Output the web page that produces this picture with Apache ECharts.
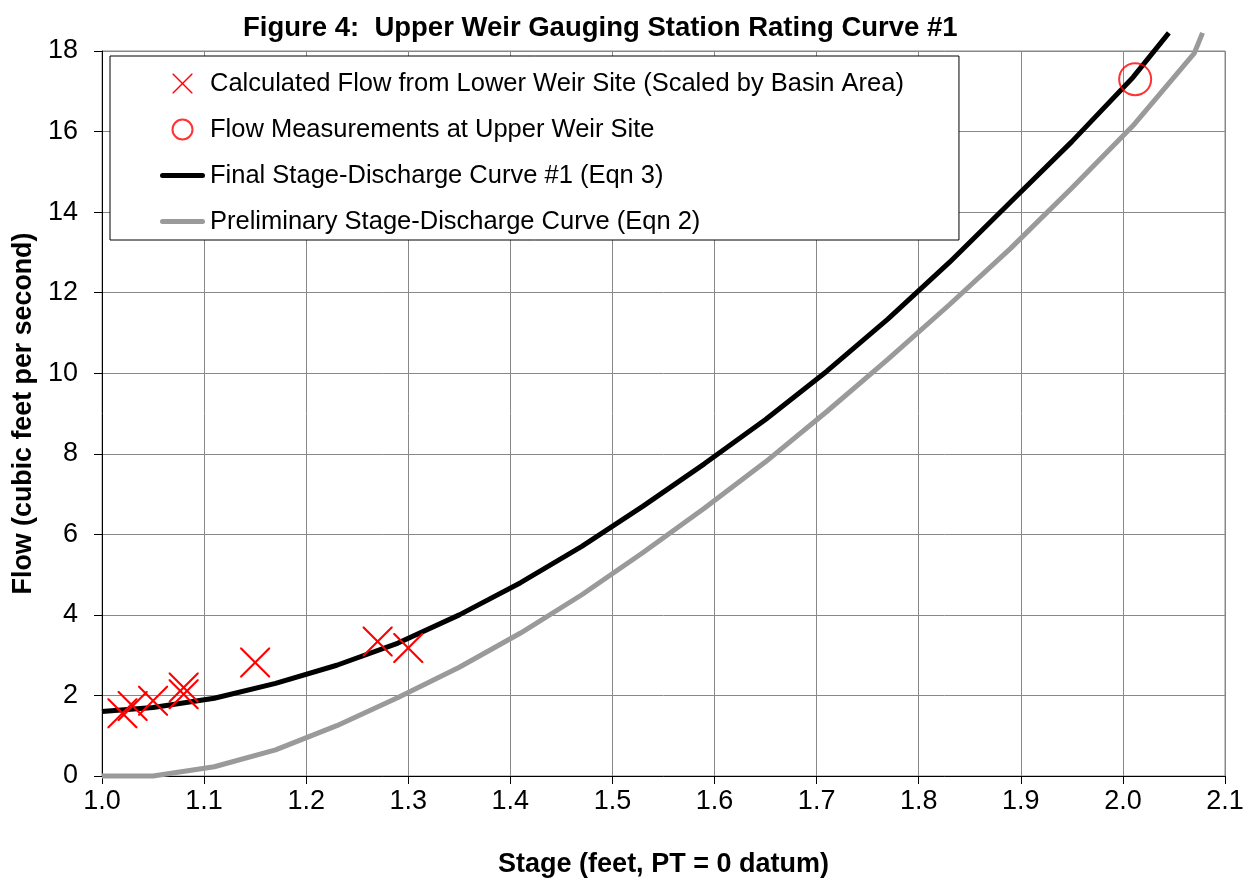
<!DOCTYPE html>
<html>
<head>
<meta charset="utf-8">
<script src="https://cdn.jsdelivr.net/npm/echarts@6/dist/echarts.min.js"></script>
<style>html,body{margin:0;padding:0;background:#fff}#c{width:1256px;height:883px}</style>
</head>
<body>
<div id="c"></div>
<script>
// ---- data ----
const titleText = 'Figure 4:  Upper Weir Gauging Station Rating Curve #1';
const xName = 'Stage (feet, PT = 0 datum)';
const yName = 'Flow (cubic feet per second)';
const seriesNames = [
  'Calculated Flow from Lower Weir Site (Scaled by Basin Area)',
  'Flow Measurements at Upper Weir Site',
  'Final Stage-Discharge Curve #1 (Eqn 3)',
  'Preliminary Stage-Discharge Curve (Eqn 2)'
];
const lowerStage = [1.02, 1.03, 1.05, 1.08, 1.08, 1.15, 1.27, 1.30];
const lowerFlow  = [1.56, 1.74, 1.87, 2.20, 2.03, 2.82, 3.34, 3.18];
const upperStage = [2.012];
const upperFlow  = [17.3];
const finalStage = [1.00, 1.05, 1.11, 1.17, 1.23, 1.29, 1.35, 1.41, 1.47, 1.53, 1.59, 1.65, 1.71, 1.77, 1.83, 1.89, 1.95, 2.01, 2.045];
const finalFlow  = [1.60, 1.70, 1.93, 2.30, 2.75, 3.30, 4.00, 4.80, 5.70, 6.70, 7.75, 8.85, 10.05, 11.35, 12.75, 14.25, 15.75, 17.35, 18.45];
const prelimStage = [1.00, 1.05, 1.11, 1.17, 1.23, 1.29, 1.35, 1.41, 1.47, 1.53, 1.59, 1.65, 1.71, 1.77, 1.83, 1.89, 1.95, 2.01, 2.07, 2.078];
const prelimFlow  = [0.00, 0.00, 0.23, 0.65, 1.25, 1.95, 2.70, 3.55, 4.50, 5.55, 6.65, 7.80, 9.05, 10.35, 11.70, 13.10, 14.60, 16.15, 17.95, 18.45];

const zip = (a, b) => a.map((v, i) => [v, b[i]]);
const FONT = "'Liberation Sans', Arial, sans-serif";
const crossPath = 'path://M0,0L0.5,0L5,4.5L9.5,0L10,0L10,0.5L5.5,5L10,9.5L10,10L9.5,10L5,5.5L0.5,10L0,10L0,9.5L4.5,5L0,0.5Z';
const barPath = 'path://M2.5,0L42.5,0A2.5,2.5,0,0,1,42.5,5L2.5,5A2.5,2.5,0,0,1,2.5,0Z';

const chart = echarts.init(document.getElementById('c'));
chart.setOption({
  animation: false,
  backgroundColor: '#fff',
  textStyle: { fontFamily: FONT },
  title: {
    text: titleText, left: 243, top: 14, padding: 0,
    textStyle: { fontFamily: FONT, fontSize: 27.5, fontWeight: 'bold', color: '#000' }
  },
  grid: { left: 102, right: 31, top: 51, bottom: 105, show: true, borderColor: '#888', borderWidth: 1 },
  legend: {
    orient: 'vertical', left: 110, top: 56,
    backgroundColor: '#fff', borderColor: '#000', borderWidth: 1,
    padding: [13, 55, 4, 50], itemGap: 17, itemWidth: 45, itemHeight: 20, itemTextGap: 7,
    textStyle: { fontFamily: FONT, fontSize: 25.5, color: '#000', lineHeight: 29 },
    data: [
      { name: seriesNames[0], icon: crossPath },
      { name: seriesNames[1], icon: 'circle' },
      { name: seriesNames[2], icon: barPath },
      { name: seriesNames[3], icon: barPath }
    ]
  },
  xAxis: {
    type: 'value', min: 1.0, max: 2.1, interval: 0.1,
    name: xName, nameLocation: 'middle', nameGap: 75,
    nameTextStyle: { fontFamily: FONT, fontSize: 27, fontWeight: 'bold', color: '#000' },
    axisLine: { show: true, onZero: false, lineStyle: { color: '#000', width: 1 } },
    axisTick: { show: true, length: 8, lineStyle: { color: '#000' } },
    axisLabel: { fontFamily: FONT, fontSize: 27, color: '#000', margin: 12, formatter: v => v.toFixed(1) },
    splitLine: { show: true, lineStyle: { color: '#888', width: 1 } }
  },
  yAxis: {
    type: 'value', min: 0, max: 18, interval: 2,
    name: yName, nameLocation: 'middle', nameGap: 65,
    nameTextStyle: { fontFamily: FONT, fontSize: 26.8, fontWeight: 'bold', color: '#000' },
    axisLine: { show: true, lineStyle: { color: '#000', width: 1 } },
    axisTick: { show: true, length: 8, lineStyle: { color: '#000' } },
    axisLabel: { fontFamily: FONT, fontSize: 27, color: '#000', margin: 24 },
    splitLine: { show: true, lineStyle: { color: '#888', width: 1 } }
  },
  series: [
    {
      name: seriesNames[3], type: 'line', data: zip(prelimStage, prelimFlow),
      showSymbol: false, symbol: 'none', clip: false, z: 2,
      lineStyle: { color: '#9a9a9a', width: 5 }, itemStyle: { color: '#9a9a9a' }
    },
    {
      name: seriesNames[2], type: 'line', data: zip(finalStage, finalFlow),
      showSymbol: false, symbol: 'none', clip: false, z: 3,
      lineStyle: { color: '#000', width: 5 }, itemStyle: { color: '#000' }
    },
    {
      name: seriesNames[0], type: 'scatter', data: zip(lowerStage, lowerFlow),
      symbol: crossPath, symbolSize: 30, z: 4,
      itemStyle: { color: '#ff0000', opacity: 1 }
    },
    {
      name: seriesNames[1], type: 'scatter', data: zip(upperStage, upperFlow),
      symbol: 'circle', symbolSize: 32, z: 4,
      itemStyle: { color: 'rgba(0,0,0,0)', borderColor: '#ff0000', borderWidth: 2 }
    }
  ]
});
</script>
</body>
</html>
